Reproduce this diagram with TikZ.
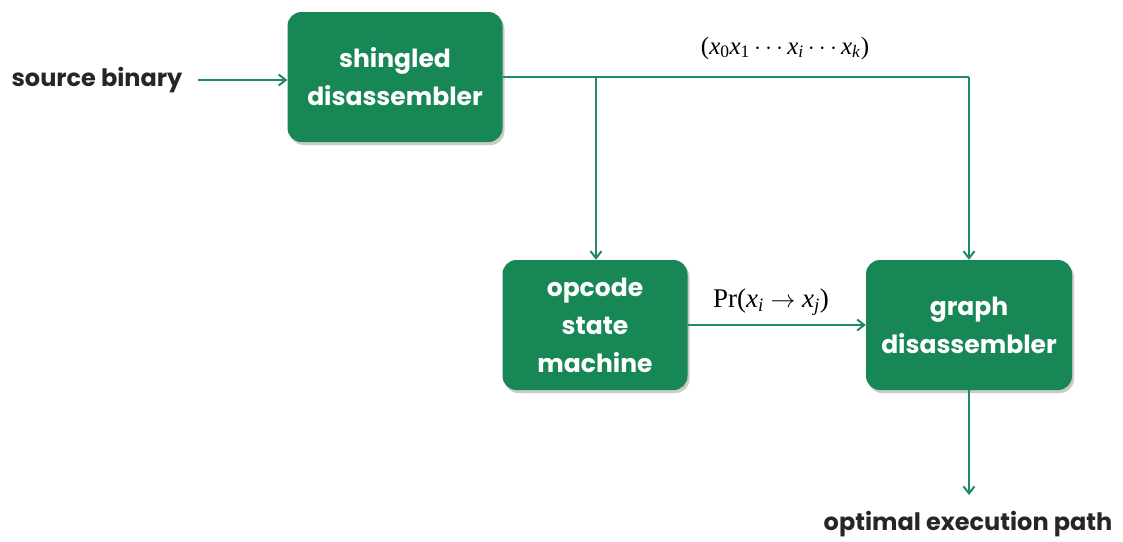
\documentclass[tikz,border=0pt]{standalone}
\usepackage{fontspec}
\setmainfont{Poppins}
\newfontfamily\tms{Liberation Serif}
\usetikzlibrary{arrows.meta,shadows}
\definecolor{boxgreen}{RGB}{22,135,85}
\definecolor{linegreen}{RGB}{30,140,95}
\begin{document}
\begin{tikzpicture}[x=1pt,y=-1pt,
  blk/.style={fill=boxgreen,rounded corners=14pt,text=white,font=\fontsize{25}{38}\selectfont\bfseries,
    align=center,inner sep=0pt,
    drop shadow={shadow xshift=2pt,shadow yshift=-3pt,opacity=0.35,fill=black!60}},
  conn/.style={draw=linegreen,line width=2pt,-{Straight Barb[length=7pt,width=11pt,line width=2pt]}},
  lbl/.style={font=\fontsize{24}{28}\selectfont\bfseries,text=black!85},
  mlbl/.style={font=\fontsize{25}{28}\selectfont\tms}]
\useasboundingbox (0,0) rectangle (1123,541);
\node[blk,minimum width=215pt,minimum height=130pt] (sd) at (395,77) {shingled\\disassembler};
\node[blk,minimum width=185pt,minimum height=130pt] (osm) at (595,325) {opcode\\state\\machine};
\node[blk,minimum width=206pt,minimum height=130pt] (gd) at (969,325) {graph\\disassembler};
\node[lbl] (src) at (97,80) {source binary};
\node[lbl] (out) at (968,524) {optimal execution path};
\coordinate (srcend) at (198,80);
\coordinate (branch) at (596,77);
\coordinate (corner) at (969,77);
\coordinate (outend) at (969,495);
\draw[conn] (srcend) -- (sd.west |- srcend);
\draw[draw=linegreen,line width=2pt] (sd.east |- branch) -- (corner);
\draw[conn] (branch) -- (osm.north -| branch);
\draw[conn] (corner) -- (gd.north);
\draw[conn] (osm.east) -- (gd.west);
\draw[conn] (gd.south) -- (outend);
\node[mlbl] (seq) at (785,48) {(\textit{x}\textsubscript{0}\textit{x}\textsubscript{1}\,$\cdots$\,\textit{x}\textsubscript{\textit{i}}\,$\cdots$\,\textit{x}\textsubscript{\textit{k}})};
\node[mlbl,font=\fontsize{27}{30}\selectfont\tms] (pr) at (771,302) {Pr(\textit{x}\textsubscript{\textit{i}} $\rightarrow$ \textit{x}\textsubscript{\textit{j}})};
\end{tikzpicture}
\end{document}
